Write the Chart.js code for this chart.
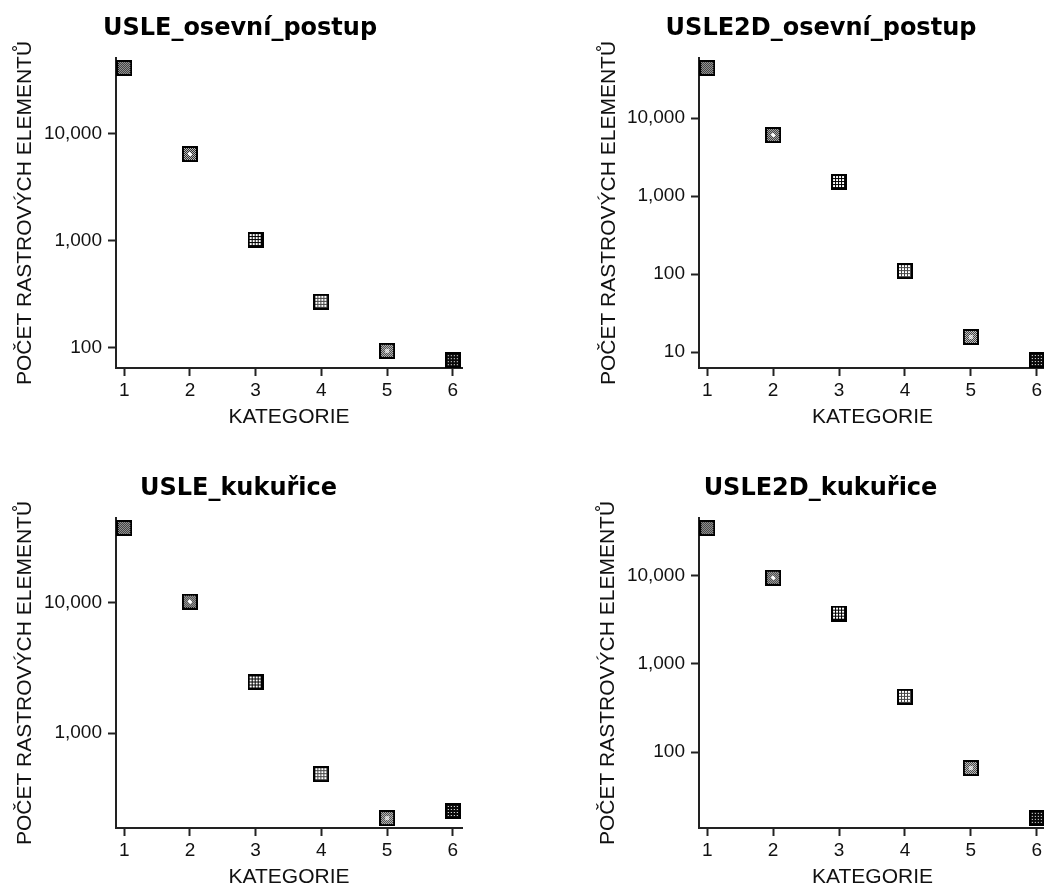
<!DOCTYPE html>
<html><head><meta charset="utf-8">
<script src="https://cdn.jsdelivr.net/npm/chart.js@4.4.1/dist/chart.umd.min.js"></script>
<style>
html,body{margin:0;padding:0;background:#fff;overflow:hidden;width:1044px;height:889px;position:relative;}
canvas{position:absolute;}
</style></head><body>
<canvas id="c1" width="480" height="430" style="left:0px;top:0px"></canvas>
<canvas id="c2" width="480" height="430" style="left:583px;top:0px"></canvas>
<canvas id="c3" width="480" height="430" style="left:0px;top:460px"></canvas>
<canvas id="c4" width="480" height="430" style="left:583px;top:460px"></canvas>
<script>
// ---- data ----
const categories = [1, 2, 3, 4, 5, 6];
const usleOsevni = [41400, 6500, 1020, 270, 94, 77];
const usle2dOsevni = [43800, 6050, 1510, 109, 15.6, 7.9];
const usleKukurice = [37400, 10200, 2450, 486, 224, 254];
const usle2dKukurice = [34800, 9490, 3720, 424, 66, 18];
const chartTitles = ['USLE_osevní_postup', 'USLE2D_osevní_postup', 'USLE_kukuřice', 'USLE2D_kukuřice'];
const yTicks1 = [100, 1000, 10000];
const yTicks2 = [10, 100, 1000, 10000];
const yTicks3 = [1000, 10000];
const yTicks4 = [100, 1000, 10000];
const xTitle = 'KATEGORIE';
const yTitle = 'POČET RASTROVÝCH ELEMENTŮ';

// ---- marker sprites (style only) ----
function makeMarker(kind) {
  const s = 16, c = document.createElement('canvas');
  c.width = s; c.height = s;
  const g = c.getContext('2d');
  g.fillStyle = '#000'; g.fillRect(0, 0, s, s);
  for (let i = 0; i < 12; i++) for (let j = 0; j < 12; j++) {
    let col;
    const chk = (i + j) % 2 === 0;
    const center = i >= 4 && i <= 7 && j >= 4 && j <= 7;
    const cross = (i >= 4 && i <= 7 && j >= 5 && j <= 6) || (j >= 4 && j <= 7 && i >= 5 && i <= 6);
    switch (kind) {
      case 1: col = chk ? '#b8b8b8' : '#1e1e1e'; break;
      case 2: col = cross ? '#ffffff' : (chk ? '#d0d0d0' : '#1a1a1a'); break;
      case 3: col = (i % 3 === 2 || j % 3 === 2) ? '#000000' : '#ffffff'; break;
      case 4: col = (i % 3 === 2 || j % 3 === 2) ? '#444444' : '#ffffff'; break;
      case 5: col = center ? (chk ? '#ffffff' : '#aaaaaa') : (chk ? '#d8d8d8' : '#2e2e2e'); break;
      default: col = (i % 3 === 1 && j % 3 === 1) ? '#ffffff' : '#0a0a0a';
    }
    g.fillStyle = col; g.fillRect(2 + i, 2 + j, 1, 1);
  }
  return c;
}
const markerSprites = categories.map(k => makeMarker(k));

const panels = [
  { id: 'c1', values: usleOsevni, ticks: yTicks1, title: chartTitles[0], yMin: 65, yMax: 51300, padL: 18, yW: 98, yTitlePad: -5.6, padR: 18 },
  { id: 'c2', values: usle2dOsevni, ticks: yTicks2, title: chartTitles[1], yMin: 6.24, yMax: 58800, padL: 13, yW: 103, yTitlePad: 0.9, padR: 17 },
  { id: 'c3', values: usleKukurice, ticks: yTicks3, title: chartTitles[2], yMin: 188, yMax: 44600, padL: 15, yW: 101, yTitlePad: -2.6, padR: 18 },
  { id: 'c4', values: usle2dKukurice, ticks: yTicks4, title: chartTitles[3], yMin: 13.8, yMax: 45200, padL: 12, yW: 104, yTitlePad: 1.1, padR: 17 }
];

const axisColor = '#222';
const tickFont = { family: "'Liberation Sans', Arial, sans-serif", size: 19 };
const titleFont = { family: "'Liberation Sans', Arial, sans-serif", size: 21 };

panels.forEach(p => {
  new Chart(document.getElementById(p.id), {
    type: 'scatter',
    data: {
      datasets: [{
        data: categories.map((c, i) => ({ x: c, y: p.values[i] })),
        pointStyle: markerSprites,
        pointRadius: 8,
        showLine: false,
        clip: false
      }]
    },
    options: {
      responsive: false,
      devicePixelRatio: 1,
      animation: false,
      events: [],
      layout: { padding: { left: p.padL, right: p.padR, top: 0, bottom: 0 } },
      plugins: {
        legend: { display: false },
        tooltip: { enabled: false },
        title: {
          display: true,
          text: p.title,
          color: '#000',
          font: { family: "'DejaVu Sans', Verdana, sans-serif", size: 24, weight: 'bold' },
          padding: { top: 14.6, bottom: 14.6 }
        }
      },
      scales: {
        x: {
          type: 'linear',
          min: 0.875,
          max: 6.14,
          afterBuildTicks: s => { s.ticks = categories.map(v => ({ value: v })); },
          afterFit: s => { s.height = 62; },
          grid: { drawOnChartArea: false, drawTicks: true, tickLength: 8, tickWidth: 2, tickColor: axisColor },
          border: { display: true, width: 2, color: axisColor },
          ticks: { color: '#111', font: tickFont, padding: 3, autoSkip: false, maxRotation: 0, callback: v => String(v) },
          title: { display: true, text: xTitle, color: '#111', font: titleFont, padding: { top: 0, bottom: 0 } }
        },
        y: {
          type: 'logarithmic',
          min: p.yMin,
          max: p.yMax,
          afterBuildTicks: s => { s.ticks = p.ticks.map(v => ({ value: v })); },
          afterFit: s => { s.width = p.yW; },
          grid: { drawOnChartArea: false, drawTicks: true, tickLength: 8, tickWidth: 2, tickColor: axisColor },
          border: { display: true, width: 2, color: axisColor },
          ticks: { color: '#111', font: tickFont, padding: 6, autoSkip: false, callback: v => Number(v).toLocaleString('en-US') },
          title: { display: true, text: yTitle, color: '#111', font: titleFont, padding: { top: p.yTitlePad, bottom: 0 } }
        }
      }
    }
  });
});
</script>
</body></html>
